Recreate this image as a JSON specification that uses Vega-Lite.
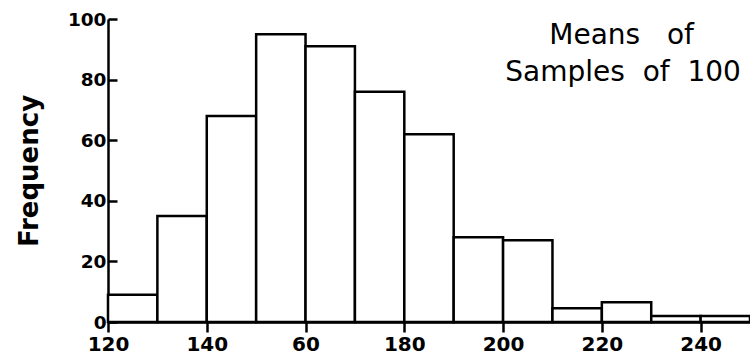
{
  "$schema": "https://vega.github.io/schema/vega-lite/v6.json",
  "autosize": "none",
  "width": 642,
  "height": 303,
  "padding": {"left": 108, "top": 19, "right": 0, "bottom": 41},
  "background": "white",
  "config": {"view": {"stroke": null}},
  "layer": [
    {
      "data": {"values": [
        {"bin_start": 120, "bin_end": 130, "frequency": 9},
        {"bin_start": 130, "bin_end": 140, "frequency": 35},
        {"bin_start": 140, "bin_end": 150, "frequency": 68},
        {"bin_start": 150, "bin_end": 160, "frequency": 95},
        {"bin_start": 160, "bin_end": 170, "frequency": 91},
        {"bin_start": 170, "bin_end": 180, "frequency": 76},
        {"bin_start": 180, "bin_end": 190, "frequency": 62},
        {"bin_start": 190, "bin_end": 200, "frequency": 28},
        {"bin_start": 200, "bin_end": 210, "frequency": 27},
        {"bin_start": 210, "bin_end": 220, "frequency": 4.5},
        {"bin_start": 220, "bin_end": 230, "frequency": 6.5},
        {"bin_start": 230, "bin_end": 240, "frequency": 2},
        {"bin_start": 240, "bin_end": 250, "frequency": 2}
      ]},
      "mark": {"type": "rect", "fill": "white", "stroke": "black", "strokeWidth": 2.5},
      "encoding": {
        "x": {
          "field": "bin_start", "type": "quantitative",
          "scale": {"domain": [120, 250], "nice": false, "zero": false},
          "axis": {
            "values": [120, 140, 160, 180, 200, 220, 240],
            "labelExpr": "datum.value == 160 ? '60' : datum.label",
            "title": null, "grid": false,
            "domainColor": "black", "domainWidth": 2.5,
            "tickColor": "black", "tickWidth": 2.5, "tickSize": 10,
            "labelFont": "DejaVu Sans", "labelFontSize": 20, "labelFontWeight": "bold",
            "labelColor": "black", "labelPadding": 2, "labelFlush": false
          }
        },
        "x2": {"field": "bin_end"},
        "y": {
          "field": "frequency", "type": "quantitative",
          "scale": {"domain": [0, 100], "nice": false},
          "axis": {
            "values": [0, 20, 40, 60, 80, 100],
            "title": "Frequency", "grid": false,
            "domainColor": "black", "domainWidth": 2.5,
            "tickColor": "black", "tickWidth": 2.5, "tickSize": -9,
            "labelFont": "DejaVu Sans", "labelFontSize": 18.5, "labelFontWeight": "bold",
            "labelColor": "black", "labelPadding": 11,
            "titleFont": "DejaVu Sans", "titleFontSize": 26, "titleFontWeight": "bold",
            "titleColor": "black", "titlePadding": 25
          }
        },
        "y2": {"datum": 0}
      }
    },
    {
      "data": {"values": [
        {"x": 224, "y": 94.5, "label": "Means\u00a0\u00a0\u00a0of"},
        {"x": 224.3, "y": 82.3, "label": "Samples\u00a0\u00a0of\u00a0\u00a0100"}
      ]},
      "mark": {"type": "text", "font": "DejaVu Sans", "fontSize": 28, "color": "black", "align": "center", "baseline": "middle"},
      "encoding": {
        "x": {"field": "x", "type": "quantitative"},
        "y": {"field": "y", "type": "quantitative"},
        "text": {"field": "label"}
      }
    }
  ]
}
